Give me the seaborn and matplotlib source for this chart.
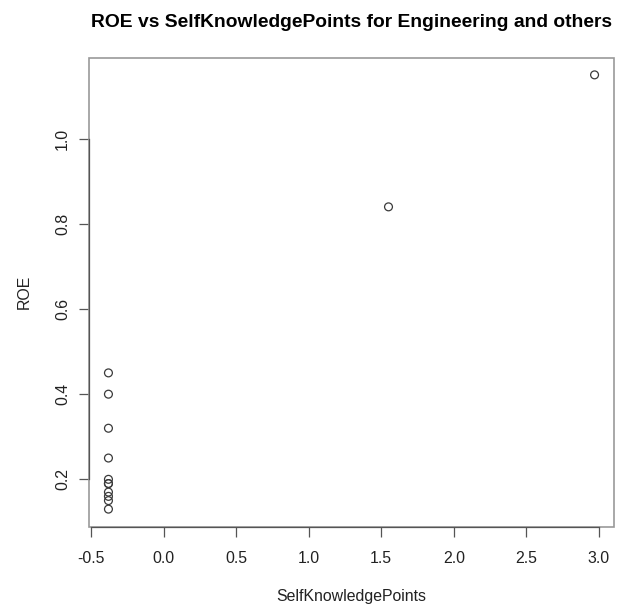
import matplotlib
matplotlib.use("Agg")
import matplotlib.pyplot as plt
from matplotlib.patches import Rectangle
import seaborn as sns
import pandas as pd

# ROE against SelfKnowledgePoints, engineering and other sectors
self_knowledge_points = [-0.38, -0.38, -0.38, -0.38, -0.38, -0.38, -0.38,
                         -0.38, -0.38, -0.38, -0.38, 1.55, 2.97]
roe = [0.45, 0.40, 0.32, 0.25, 0.20, 0.19, 0.19, 0.17, 0.16, 0.15, 0.13,
       0.84, 1.15]
x_ticks = [-0.5, 0.0, 0.5, 1.0, 1.5, 2.0, 2.5, 3.0]
y_ticks = [0.2, 0.4, 0.6, 0.8, 1.0]

df = pd.DataFrame({"SelfKnowledgePoints": self_knowledge_points, "ROE": roe})

sns.set_theme(style="white")
plt.rcParams["font.family"] = ["Liberation Sans", "DejaVu Sans"]

fig = plt.figure(figsize=(6.24, 6.09), dpi=100)
ax = fig.add_axes([89 / 624, 1 - 526.5 / 609, 525 / 624, 469 / 609])

sns.scatterplot(data=df, x="SelfKnowledgePoints", y="ROE", ax=ax,
                marker="o", s=32, facecolor="none", edgecolor="#3a3a3a",
                linewidth=0.9)

# R-style 4% padding around the data range
xmin, xmax = min(self_knowledge_points), max(self_knowledge_points)
ymin, ymax = min(roe), max(roe)
xp, yp = 0.04 * (xmax - xmin), 0.04 * (ymax - ymin)
ax.set_xlim(xmin - xp, xmax + xp)
ax.set_ylim(ymin - yp, ymax + yp)

ax.set_xticks(x_ticks)
ax.set_xticklabels([f"{v:.1f}" for v in x_ticks])
ax.set_yticks(y_ticks)
ax.set_yticklabels([f"{v:.1f}" for v in y_ticks], rotation=90, va="center")

txt = "#222222"
ax.tick_params(axis="both", which="both", direction="out", length=7,
               width=0.9, color="#555555", labelsize=11.4, labelcolor=txt,
               bottom=True, left=True)
ax.tick_params(axis="x", pad=10.5)
ax.tick_params(axis="y", pad=6.5)

# axis lines spanning only the tick range, plus the surrounding box
for side in ("top", "right"):
    ax.spines[side].set_visible(False)
ax.spines["left"].set_bounds(y_ticks[0], y_ticks[-1])
ax.spines["bottom"].set_bounds(x_ticks[0], x_ticks[-1])
for side in ("left", "bottom"):
    ax.spines[side].set_color("#555555")
    ax.spines[side].set_linewidth(0.9)
ax.add_patch(Rectangle((0, 0), 1, 1, transform=ax.transAxes, fill=False,
                       edgecolor="#999999", linewidth=1.2, clip_on=False))

ax.set_xlabel("SelfKnowledgePoints", fontsize=11.4, color=txt, labelpad=17)
ax.set_ylabel("ROE", fontsize=11.4, color=txt, labelpad=17)
ax.set_title("ROE vs SelfKnowledgePoints for Engineering and others",
             fontsize=13.9, fontweight="bold", color="black", pad=22)

fig.savefig("out.png", dpi=100)
